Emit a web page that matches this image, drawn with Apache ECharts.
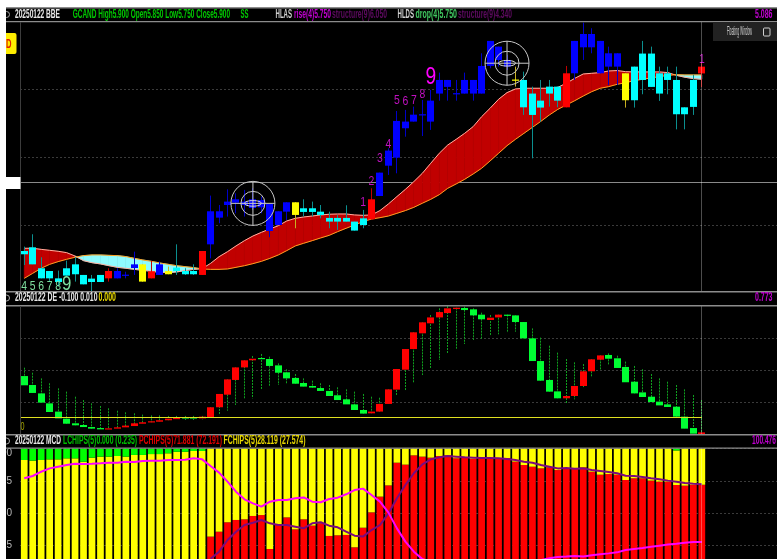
<!DOCTYPE html>
<html>
<head>
<meta charset="utf-8">
<title>20250122 BBE</title>
<script src="https://cdn.jsdelivr.net/npm/echarts@6/dist/echarts.min.js"></script>
<style>
  html, body { margin: 0; padding: 0; background: #fff; }
  #chart { width: 777px; height: 559px; filter: blur(0.35px); }
</style>
</head>
<body>
<div id="chart"></div>
<script>
// price candles, k = cyan, blue, red, yellow signal colour
const candleKind = [
  "c","c","c","c","c","c","c","c","c","c",
  "r","b","b","b","y","r","b","y","c","c",
  "c","r","b","b","b","b","b","b","b","b",
  "b","b","y","c","c","c","c","c","c","c",
  "c","r","b","b","b","b","b","b","b","b",
  "b","b","b","b","b","b","b","b","y","c",
  "c","c","c","c","r","b","b","b","b","b",
  "b","y","c","c","c","c","c","c","c","c",
  "r"];
const candleOpen = [
  4.545,4.572,4.418,4.398,4.344,4.418,4.447,4.369,4.342,4.369,
  4.344,4.344,4.366,4.42,4.447,4.344,4.369,4.398,4.423,4.398,
  4.398,4.369,4.594,4.79,4.883,4.9,4.883,4.861,4.866,4.692,
  4.736,4.834,4.903,4.859,4.859,4.834,4.788,4.788,4.788,4.761,
  4.785,4.778,4.949,5.172,5.231,5.447,5.496,5.545,5.496,5.702,
  5.751,5.7,5.702,5.702,5.702,5.905,5.949,5.9,5.805,5.802,
  5.702,5.65,5.753,5.753,5.601,5.851,6.042,6.042,5.851,5.9,
  5.9,5.851,5.9,5.996,5.996,5.851,5.851,5.802,5.601,5.802,
  5.85];
const candleClose = [
  4.521,4.447,4.344,4.344,4.317,4.364,4.374,4.3,4.317,4.317,
  4.398,4.398,4.371,4.447,4.32,4.396,4.447,4.374,4.398,4.374,
  4.374,4.545,4.837,4.837,4.908,4.925,4.908,4.925,4.92,4.891,
  4.837,4.903,4.81,4.832,4.832,4.81,4.761,4.761,4.761,4.695,
  4.736,4.925,5.121,5.283,5.501,5.496,5.547,5.55,5.65,5.802,
  5.802,5.705,5.802,5.802,5.905,6.089,6.047,5.949,5.8,5.601,
  5.545,5.599,5.702,5.65,5.851,6.089,6.14,6.14,6.089,5.998,
  5.998,5.653,5.653,5.802,5.751,5.702,5.802,5.55,5.55,5.604,
  5.9];
const candleLow = [
  4.442,4.447,4.344,4.325,4.283,4.364,4.32,4.3,4.246,4.317,
  4.32,4.344,4.344,4.369,4.32,4.344,4.369,4.374,4.369,4.369,
  4.369,4.369,4.491,4.749,4.798,4.822,4.798,4.847,4.822,4.646,
  4.736,4.773,4.712,4.798,4.798,4.785,4.712,4.7,4.761,4.695,
  4.712,4.778,4.949,5.104,5.116,5.385,5.496,5.39,5.435,5.65,
  5.65,5.65,5.702,5.65,5.702,5.888,5.9,5.876,5.753,5.545,
  5.226,5.496,5.606,5.601,5.601,5.802,5.949,5.998,5.851,5.765,
  5.765,5.599,5.599,5.697,5.751,5.648,5.697,5.439,5.439,5.545,
  5.75];
const candleHigh = [
  4.577,4.668,4.499,4.398,4.401,4.474,4.499,4.369,4.369,4.369,
  4.418,4.418,4.393,4.54,4.447,4.472,4.467,4.43,4.594,4.418,
  4.447,4.545,4.952,4.883,4.998,4.969,4.994,5.006,4.945,4.891,
  4.837,4.903,4.903,4.925,4.908,4.883,4.834,4.81,4.881,4.761,
  4.847,5.006,5.121,5.3,5.574,5.582,5.606,5.655,5.729,5.856,
  5.802,5.802,5.856,5.802,5.998,6.089,6.047,5.986,5.9,5.863,
  5.753,5.802,5.802,5.753,5.905,6.089,6.223,6.182,6.089,6.047,
  5.998,5.851,5.9,6.089,6.047,5.9,5.9,5.9,5.601,5.839,
  5.925];

// ribbon edges
const ribbonFast = [
  4.565,4.565,4.557,4.55,4.543,4.533,4.508,4.474,4.459,4.45,
  4.437,4.425,4.418,4.41,4.403,4.396,4.388,4.386,4.391,4.401,
  4.41,4.415,4.454,4.503,4.54,4.582,4.621,4.655,4.682,4.707,
  4.731,4.766,4.785,4.795,4.802,4.81,4.815,4.817,4.817,4.81,
  4.807,4.81,4.842,4.891,4.945,4.998,5.055,5.116,5.19,5.263,
  5.324,5.366,5.41,5.459,5.532,5.594,5.66,5.709,5.736,5.741,
  5.741,5.741,5.741,5.748,5.778,5.814,5.846,5.851,5.856,5.868,
  5.871,5.863,5.861,5.861,5.861,5.861,5.856,5.836,5.822,5.812,
  5.807];
const ribbonSlow = [
  4.344,4.381,4.418,4.447,4.467,4.484,4.499,4.511,4.516,4.516,
  4.513,4.511,4.504,4.491,4.479,4.469,4.457,4.447,4.437,4.43,
  4.423,4.413,4.41,4.41,4.413,4.425,4.437,4.452,4.469,4.491,
  4.516,4.548,4.582,4.602,4.621,4.641,4.66,4.687,4.712,4.736,
  4.761,4.78,4.79,4.802,4.822,4.842,4.866,4.896,4.925,4.959,
  5.006,5.038,5.072,5.111,5.153,5.207,5.263,5.319,5.366,5.41,
  5.454,5.498,5.545,5.586,5.618,5.65,5.684,5.716,5.741,5.753,
  5.77,5.782,5.797,5.807,5.817,5.827,5.836,5.841,5.839,5.839,
  5.839];

// sequence counts over the candles
const countIndex = [0,1,2,3,4,5, 40,41,42,43,44,45,46,47,48, 80];
const countText  = ["4","5","6","7","8","9", "1","2","3","4","5","6","7","8","9", "1"];
const countPrice = [4.283,4.283,4.283,4.283,4.283,4.303,
  4.903,5.055,5.224,5.329,5.648,5.643,5.648,5.697,5.822, 5.954];

// target marks
const targetIndex = [27, 57];
const targetPrice = [4.895, 5.925];

// price level lines
const priceLevels = [4.736, 5.234, 5.733];
const crossPrice = 5.045;

// DE panel
const deOpen = [
  .288,.226,.168,.099,.042,-.007,-.039,-.051,-.065,-.072,
  -.081,-.076,-.067,-.058,-.042,-.032,-.028,-.018,-.009,.002,
  .002,-.005,.002,.072,.159,.261,.348,.397,.413,.406,
  .362,.314,.275,.24,.219,.205,.185,.155,.127,.092,
  .053,.03,.042,.095,.194,.332,.475,.584,.653,.694,
  .724,.752,.759,.75,.713,.676,.694,.713,.708,.662,
  .549,.392,.261,.182,.134,.15,.219,.321,.401,.434,
  .411,.351,.249,.175,.145,.111,.092,.076,.007,-.072,
  -.118];
const deClose = [
  .224,.171,.104,.039,-.005,-.042,-.053,-.065,-.076,-.081,
  -.074,-.067,-.055,-.039,-.032,-.025,-.018,-.007,-.002,-.005,
  -.005,.007,.072,.164,.265,.348,.397,.408,.408,.358,
  .311,.272,.235,.215,.208,.185,.15,.122,.092,.053,
  .028,.042,.095,.196,.337,.475,.591,.66,.694,.731,
  .757,.761,.745,.708,.681,.692,.713,.706,.662,.549,
  .392,.256,.18,.134,.15,.219,.321,.404,.431,.408,
  .344,.245,.168,.143,.108,.085,.074,.007,-.076,-.111,
  -.102];
const deLow = [
  .224,.171,.104,.039,-.005,-.042,-.053,-.065,-.076,-.081,
  -.081,-.076,-.067,-.058,-.042,-.032,-.028,-.018,-.009,-.016,
  -.016,-.012,.002,.018,.048,.088,.127,.134,.196,.219,
  .226,.231,.235,.215,.208,.185,.15,.122,.092,.053,
  .028,.03,.042,.095,.15,.191,.242,.295,.341,.399,
  .441,.473,.51,.538,.542,.565,.577,.588,.595,.549,
  .392,.256,.18,.134,.099,.127,.205,.279,.33,.367,
  .344,.245,.168,.143,.108,.085,.074,.007,-.076,-.111,
  -.118];
const deHigh = [
  .346,.311,.272,.238,.203,.18,.145,.122,.099,.081,
  .065,.048,.037,.03,.021,.016,.016,.012,.012,.012,
  .012,.012,.072,.164,.265,.348,.397,.427,.441,.422,
  .376,.335,.302,.272,.256,.238,.226,.21,.196,.18,
  .164,.145,.138,.196,.337,.475,.591,.66,.711,.757,
  .773,.761,.768,.757,.727,.711,.713,.713,.708,.662,
  .618,.554,.498,.45,.406,.383,.371,.404,.431,.445,
  .429,.388,.358,.335,.302,.272,.249,.226,.196,.157,
  .122];

// MCD panel, stacked to 100
const pChips = [
  0,0,0,0,0,0,0,0,0,0,
  0,0,0,0,0,0,0,0,0,0,
  0,0,31.7,35.5,42.8,44.6,45.1,47.7,48.4,22.1,
  40.7,46.6,37.3,45.1,40.2,42,32.2,32.7,33,23.4,
  38.6,50.5,62.7,71.4,89,87.5,94.7,93.7,92.9,94.2,
  94.7,92.4,93.2,91.9,92.6,92.6,92.6,92.6,89.8,87.2,
  85.9,84.6,85.4,83.3,84.9,84.6,85.4,82,79.7,80.2,
  79.7,75.6,76.9,76.9,75.1,74.3,74.3,71.7,71.2,71.7,
  71.9];
const fChips = [
  91.1,90.6,91.1,91.6,91.6,92.4,92.4,89.8,92.9,93.7,
  93.7,94.2,93.7,95,95,95.7,95.7,96.3,97.5,97.5,
  98.1,98.1,68.3,64.5,57.2,55.4,54.9,52.3,51.6,77.9,
  59.3,53.4,62.7,54.9,59.8,58,67.8,67.3,67,76.6,
  61.4,49.5,37.3,28.6,11,12.5,5.3,6.3,7.1,5.8,
  5.3,7.6,6.8,8.1,7.4,7.4,7.4,7.4,10.2,12.8,
  14.1,15.4,14.6,16.7,15.1,15.4,14.6,18,20.3,19.8,
  20.3,24.4,23.1,23.1,24.9,25.7,25.7,26.8,28.8,28.3,
  28.1];
const lChips = [
  8.9,9.4,8.9,8.4,8.4,7.6,7.6,10.2,7.1,6.3,
  6.3,5.8,6.3,5,5,4.3,4.3,3.7,2.5,2.5,
  1.9,1.9,0,0,0,0,0,0,0,0,
  0,0,0,0,0,0,0,0,0,0,
  0,0,0,0,0,0,0,0,0,0,
  0,0,0,0,0,0,0,0,0,0,
  0,0,0,0,0,0,0,0,0,0,
  0,0,0,0,0,0,0,1.5,0,0,
  0];
const fChipsAvg = [
  76.9,78.7,82,84.6,85.9,87.2,88.2,88,88.2,88.5,
  89,89,89.8,89.5,90.3,90.6,90.6,91.1,91.1,91.3,
  92.4,91.6,86.4,81.3,74.3,66.5,60.6,57.5,54.9,58.8,
  60.1,60.1,61.4,62.1,58.8,58.3,60.9,61.9,64.5,67.8,
  68.9,64,58.8,50.3,38.1,27.8,20,14.3,12,10.5,
  9.5,8.5,8,7.5,7.5,7.5,8,8.5,9.5,10.5,
  12,13.5,14.9,15.9,16.2,16.7,16.2,17.2,18,18.7,
  19.5,21.3,22.1,22.9,23.9,24.7,25.5,26.2,27,27.5,
  27.6];
const pChipsAvg = [
  0,0,0,0,0,0,0,0,0,0,
  0,0,0,0,0,0,0,0,0,0,
  0,0,14.5,20,29.1,35.5,40.7,42.5,44.6,42,
  40.7,40.7,39.4,38.1,42,42.8,40.2,38.9,35.5,32.4,
  31.7,36.8,40.7,49.7,61.4,71.7,80.8,87.7,91.6,93.2,
  94.2,93.7,93.2,92.9,92.6,92.6,92.4,91.9,91.1,89.8,
  89,87.2,85.9,84.6,84.9,84.4,84.6,83.3,82.6,81.8,
  80.8,78.9,78.7,77.9,76.9,76.1,75.1,74.3,73.3,72.7,
  72.2];
const chipLevels = [25, 50, 75, 100];

// the axis runs on past the last bar, empty slots on the right
const slots = [];
for (let i = 0; i < 90; i++) slots.push(String(i));

const chart = echarts.init(document.getElementById("chart"));
const FONT = '"Liberation Sans Narrow", "Liberation Sans", sans-serif';
const bodyColor = { c: "#00ffff", b: "#0000ff", r: "#ff0000", y: "#ffff00" };
const wickColor = { c: "#0b8f8f", b: "#0000c8", r: "#c00000", y: "#c8b020" };

function crisp(v) {
  return Math.round(v - 0.5) + 0.5;
}

function renderCandle(params, api) {
  const i = api.value(0);
  const kind = candleKind[params.dataIndex];
  const x = crisp(api.coord([i, 0])[0]);
  const top = api.coord([i, Math.max(api.value(1), api.value(2))])[1];
  const bot = api.coord([i, Math.min(api.value(1), api.value(2))])[1];
  return {
    type: "group",
    children: [
      {
        type: "line",
        shape: { x1: x, x2: x, y1: api.coord([i, api.value(4)])[1], y2: api.coord([i, api.value(3)])[1] },
        style: { stroke: wickColor[kind], lineWidth: 1 },
      },
      {
        type: "rect",
        shape: { x: x - 3.5, y: top, width: 7, height: Math.max(bot - top, 1.2) },
        style: { fill: bodyColor[kind] },
      },
    ],
  };
}

function renderRibbon(params, api) {
  const i = api.value(0);
  if (i >= ribbonFast.length - 1) return null;
  const a0 = api.coord([i, ribbonFast[i]]);
  const a1 = api.coord([i + 1, ribbonFast[i + 1]]);
  const b1 = api.coord([i + 1, ribbonSlow[i + 1]]);
  const b0 = api.coord([i, ribbonSlow[i]]);
  const up = ribbonFast[i] + ribbonFast[i + 1] >= ribbonSlow[i] + ribbonSlow[i + 1];
  const fill = up ? "#c00000" : "#8ffcff";
  return {
    type: "polygon",
    shape: { points: [a0, a1, b1, b0] },
    style: { fill: fill, stroke: fill, lineWidth: 0.6 },
  };
}

function renderCount(params, api) {
  const i = api.value(0);
  const text = countText[params.dataIndex];
  const left = i < 10;
  const big = text === "9";
  const p = api.coord([i, api.value(1)]);
  let fill = left ? "#7fe0a0" : "#c010c0";
  if (big && !left) fill = "#ff00ff";
  return {
    type: "text",
    x: p[0],
    y: p[1],
    scaleX: 0.8,
    style: {
      text: text,
      fill: fill,
      font: (big ? (left ? 21 : 24) : 13) + "px " + FONT,
      align: "center",
      verticalAlign: "middle",
    },
  };
}

function renderTarget(params, api) {
  const p = api.coord([api.value(0), api.value(1)]);
  const ring = { stroke: "#c8c8c8", fill: null, lineWidth: 1 };
  return {
    type: "group",
    children: [
      { type: "circle", shape: { cx: p[0], cy: p[1], r: 22 }, style: ring },
      { type: "circle", shape: { cx: p[0], cy: p[1], r: 12 }, style: ring },
      { type: "ellipse", shape: { cx: p[0], cy: p[1], rx: 8.5, ry: 2.8 }, style: { stroke: "#dddddd", fill: null, lineWidth: 1 } },
      { type: "line", shape: { x1: p[0] - 22, x2: p[0] + 22, y1: p[1], y2: p[1] }, style: { stroke: "#c8c8c8", lineWidth: 1 } },
      { type: "line", shape: { x1: p[0], x2: p[0], y1: p[1] - 22, y2: p[1] + 22 }, style: { stroke: "#c8c8c8", lineWidth: 1 } },
    ],
  };
}

function renderDe(params, api) {
  const i = api.value(0);
  const x = crisp(api.coord([i, 0])[0]);
  const o = api.value(1);
  const c = api.value(2);
  const top = api.coord([i, Math.max(o, c)])[1];
  const bot = api.coord([i, Math.min(o, c)])[1];
  return {
    type: "group",
    children: [
      {
        type: "line",
        shape: { x1: x, x2: x, y1: api.coord([i, api.value(4)])[1], y2: api.coord([i, api.value(3)])[1] },
        style: { stroke: "#0fa01f", lineWidth: 1, lineDash: [2, 1] },
      },
      {
        type: "rect",
        shape: { x: x - 3.5, y: top, width: 7, height: Math.max(bot - top, 1.2) },
        style: { fill: c >= o ? "#ff0000" : "#00ff33" },
      },
    ],
  };
}

// full height line at the last bar
function renderCrossV(params, api) {
  const x = crisp(api.coord([api.value(0), 0])[0]);
  const g = params.coordSys;
  return {
    type: "line",
    shape: { x1: x, x2: x, y1: g.y, y2: g.y + g.height },
    style: { stroke: "rgba(255,255,255,0.3)", lineWidth: 1 },
  };
}

function renderCrossH(params, api) {
  const y = crisp(api.coord([0, api.value(0)])[1]);
  const g = params.coordSys;
  return {
    type: "line",
    shape: { x1: g.x, x2: g.x + g.width, y1: y, y2: y },
    style: { stroke: "#8a8a8a", lineWidth: 1 },
  };
}

function renderZero(params, api) {
  const y = crisp(api.coord([0, 0])[1]);
  return {
    type: "line",
    shape: { x1: params.coordSys.x, x2: api.coord([api.value(0), 0])[0], y1: y, y2: y },
    style: { stroke: "#e0e020", lineWidth: 1 },
  };
}

const grid = [
  { left: 20, top: 22, width: 762.3, height: 269, outerBoundsMode: "none", containLabel: false },
  { left: 20, top: 306, width: 762.3, height: 128.7, outerBoundsMode: "none", containLabel: false },
  { left: 20, top: 447.9, width: 762.3, height: 111.1, outerBoundsMode: "none", containLabel: false },
];
const dotted = { show: true, lineStyle: { color: "#3a3a3a", type: [2, 2], width: 1 } };
const xAxis = grid.map((g, n) => ({
  gridIndex: n,
  type: "category",
  data: slots,
  boundaryGap: true,
  axisLine: { show: false },
  axisTick: { show: false },
  axisLabel: { show: false },
  splitLine: { show: false },
}));
const yAxis = [
  {
    gridIndex: 0, type: "value", min: 4.251, max: 6.228,
    axisLine: { show: false }, axisLabel: { show: false },
    axisTick: { show: false, customValues: priceLevels },
    splitLine: dotted,
  },
  {
    gridIndex: 1, type: "value", min: -0.118, max: 0.773,
    axisLine: { show: false }, axisLabel: { show: false },
    axisTick: { show: false, customValues: [0.11, 0.33, 0.55] },
    splitLine: dotted,
  },
  {
    gridIndex: 2, type: "value", min: 14.34, max: 100.476,
    axisLine: { show: false },
    axisTick: { show: false, customValues: chipLevels },
    axisLabel: {
      show: true, customValues: chipLevels, color: "#bbbbbb", fontSize: 10, margin: 8, fontFamily: FONT,
      verticalAlignMaxLabel: "top",
    },
    splitLine: dotted,
  },
];

const candleRows = candleOpen.map((o, i) => [i, o, candleClose[i], candleLow[i], candleHigh[i]]);
const deRows = deOpen.map((o, i) => [i, o, deClose[i], deLow[i], deHigh[i]]);
const last = candleOpen.length - 1;

const series = [
  { type: "custom", xAxisIndex: 0, yAxisIndex: 0, z: 2, renderItem: renderRibbon, data: ribbonFast.map((v, i) => [i, v]), silent: true },
  { type: "line", xAxisIndex: 0, yAxisIndex: 0, z: 3, data: ribbonFast, showSymbol: false, silent: true, lineStyle: { color: "#ffb0a0", width: 1 } },
  { type: "line", xAxisIndex: 0, yAxisIndex: 0, z: 3, data: ribbonSlow, showSymbol: false, silent: true, lineStyle: { color: "#ffa020", width: 1 } },
  { type: "custom", xAxisIndex: 0, yAxisIndex: 0, z: 1, renderItem: renderCrossH, data: [[crossPrice]], silent: true, clip: true },
  { type: "custom", xAxisIndex: 0, yAxisIndex: 0, z: 4, renderItem: renderCandle, data: candleRows, silent: true },
  { type: "custom", xAxisIndex: 0, yAxisIndex: 0, z: 5, renderItem: renderCount, data: countIndex.map((x, i) => [x, countPrice[i]]), silent: true },
  { type: "custom", xAxisIndex: 0, yAxisIndex: 0, z: 6, renderItem: renderTarget, data: targetIndex.map((x, i) => [x, targetPrice[i]]), silent: true },
  { type: "custom", xAxisIndex: 0, yAxisIndex: 0, z: 7, renderItem: renderCrossV, data: [[last]], silent: true },

  { type: "custom", xAxisIndex: 1, yAxisIndex: 1, z: 4, renderItem: renderDe, data: deRows, silent: true },
  { type: "custom", xAxisIndex: 1, yAxisIndex: 1, z: 5, renderItem: renderZero, data: [[last]], silent: true },
  { type: "custom", xAxisIndex: 1, yAxisIndex: 1, z: 7, renderItem: renderCrossV, data: [[last]], silent: true },

  { type: "bar", xAxisIndex: 2, yAxisIndex: 2, stack: "chips", barWidth: 6.7, data: pChips, silent: true, itemStyle: { color: "#ff0000" } },
  { type: "bar", xAxisIndex: 2, yAxisIndex: 2, stack: "chips", barWidth: 6.7, data: fChips, silent: true, itemStyle: { color: "#ffff00" } },
  { type: "bar", xAxisIndex: 2, yAxisIndex: 2, stack: "chips", barWidth: 6.7, data: lChips, silent: true, itemStyle: { color: "#00ff00" } },
  { type: "line", xAxisIndex: 2, yAxisIndex: 2, z: 5, data: pChipsAvg.map((v, i) => (i < 22 ? null : v)), showSymbol: false, silent: true, lineStyle: { color: "#7a0a80", width: 2 } },
  { type: "line", xAxisIndex: 2, yAxisIndex: 2, z: 5, data: fChipsAvg, showSymbol: false, silent: true, lineStyle: { color: "#ff00ff", width: 2 } },
  { type: "custom", xAxisIndex: 2, yAxisIndex: 2, z: 7, renderItem: renderCrossV, data: [[last]], silent: true },
];

// text squeezed to the width it has in the picture
const ruler = document.createElement("canvas").getContext("2d");
function fitText(text, x0, x1, y, fill, font) {
  const f = font || "bold 12.5px " + FONT;
  ruler.font = f;
  return {
    type: "text",
    x: x0,
    y: y,
    scaleX: (x1 - x0) / ruler.measureText(text).width,
    z: 100,
    silent: true,
    style: { text: text, fill: fill, font: f, verticalAlign: "middle" },
  };
}
function bar(x, y, width, height, fill, z) {
  return { type: "rect", silent: true, z: z || 90, shape: { x, y, width, height }, style: { fill } };
}

const purple = "#c000d0";
const dim = "#5e0a60";
const graphic = [
  // panel rules
  bar(0, 7, 777, 1.5, "#8c8c8c"),
  bar(6, 21, 771, 1.2, "#8c8c8c"),
  bar(6, 291, 771, 1.4, "#8c8c8c"),
  bar(6, 305, 771, 1.4, "#8c8c8c"),
  bar(6, 434, 771, 1.4, "#8c8c8c"),
  bar(6, 447.6, 771, 1.2, "#8c8c8c"),
  bar(20, 22, 1, 269, "#3c3c3c"),
  bar(20, 306, 1, 128, "#3c3c3c"),
  { type: "circle", silent: true, z: 91, shape: { cx: 6.5, cy: 14.5, r: 3 }, style: { stroke: "#aaaaaa", fill: null, lineWidth: 1 } },
  { type: "circle", silent: true, z: 91, shape: { cx: 6.5, cy: 298, r: 3 }, style: { stroke: "#aaaaaa", fill: null, lineWidth: 1 } },
  { type: "circle", silent: true, z: 91, shape: { cx: 6.5, cy: 441, r: 3 }, style: { stroke: "#aaaaaa", fill: null, lineWidth: 1 } },

  // page edge, on top of everything on the left
  bar(0, 0, 777, 7, "#ffffff", 120),
  bar(0, 0, 6, 559, "#ffffff", 120),

  // left tags
  { type: "rect", silent: true, z: 92, shape: { x: 4, y: 33, width: 12.5, height: 21, r: 2 }, style: { fill: "#ffee00" } },
  fitText("D", 6, 11.5, 44, "#e02000", "bold 13px " + FONT),
  bar(6, 177, 14.5, 12, "#ffffff", 92),

  // header 1
  fitText("20250122 BBE", 15, 60, 14.5, "#e8e8e8"),
  fitText("GCAND High5.900 Open5.850 Low5.750 Close5.900", 72.7, 230, 14.5, "#00c800"),
  fitText("SS", 240.5, 248.5, 14.5, "#00c800"),
  fitText("HLAS", 275.5, 292, 14.5, "#d0d0d0"),
  fitText("rise(4)5.750", 294, 331, 14.5, purple),
  fitText("structure(9)6.050", 332, 387, 14.5, dim),
  fitText("HLDS", 397.5, 414, 14.5, "#d0d0d0"),
  fitText("drop(4)5.750", 415.5, 457, 14.5, "#40c860"),
  fitText("structure(9)4.340", 458, 512, 14.5, dim),
  fitText("5.086", 755, 772.5, 14.5, purple),

  // header 2
  fitText("20250122 DE -0.100 0.010", 15, 97.5, 298, "#e8e8e8"),
  fitText("0.000", 98.5, 116, 298, "#e8d800"),
  fitText("0.773", 755, 772.5, 298, purple),
  fitText("0", 20.5, 24.5, 427, "#a8a800", "11px " + FONT),

  // header 3
  fitText("20250122 MCD", 15, 61, 441, "#e8e8e8"),
  fitText("LCHIPS(5)0.000 (0.235)", 63, 137, 441, "#00c000"),
  fitText("PCHIPS(5)71.881 (72.191)", 139, 222, 441, "#e00000"),
  fitText("FCHIPS(5)28.119 (27.574)", 223.5, 305.5, 441, "#e8d800"),
  fitText("100.476", 752, 776, 441, purple),

  // floating window button
  bar(713, 22, 64, 19, "#222222", 95),
  fitText("Floating Window", 727, 752, 32, "#d0d0d0", "12px " + FONT),
  { type: "rect", silent: true, z: 100, shape: { x: 763.5, y: 28, width: 6.5, height: 8, r: 1 }, style: { stroke: "#d0d0d0", fill: null, lineWidth: 1 } },
];

const option = {
  backgroundColor: "#000000",
  animation: false,
  grid: grid,
  xAxis: xAxis,
  yAxis: yAxis,
  series: series,
  graphic: graphic,
};

chart.setOption(option);
</script>
</body>
</html>
